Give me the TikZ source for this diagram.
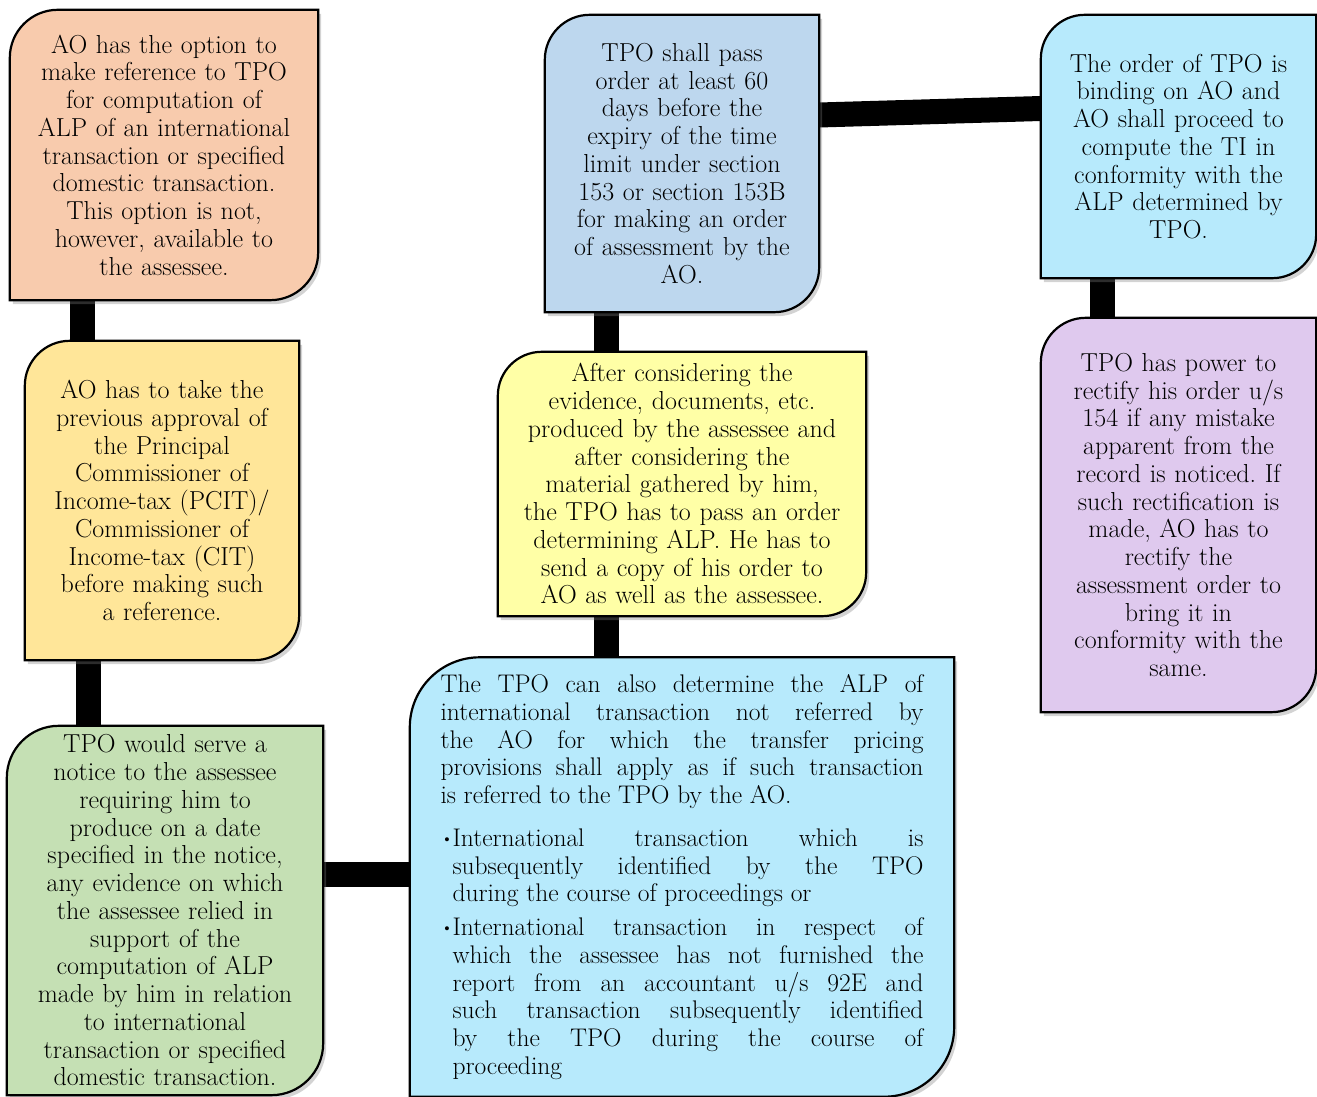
\documentclass[tikz,border=0pt]{standalone}
\usepackage{graphicx}
\usepackage{tikz}
\usetikzlibrary{backgrounds,shadows}
\definecolor{corange}{HTML}{F8CBAD}
\definecolor{cyellow}{HTML}{FFE699}
\definecolor{cgreen}{HTML}{C5E0B4}
\definecolor{cblue}{HTML}{BDD7EE}
\definecolor{clemon}{HTML}{FFFFA6}
\definecolor{ccyan}{HTML}{B7EAFC}
\definecolor{cpurple}{HTML}{DFC9EE}
% outline with rounded top-left and bottom-right corners round a node
\newcommand{\diagbox}[3]{%
  \draw[boxline, fill=#2] ([yshift=-#3]#1.north west)
    arc[start angle=180, end angle=90, radius=#3] -- (#1.north east)
    -- ([yshift=#3]#1.south east)
    arc[start angle=0, end angle=-90, radius=#3] -- (#1.south west) -- cycle;}
\newcommand{\bul}{\makebox[12pt][l]{\raisebox{2pt}{\scalebox{0.7}{\textbullet}}}}
\frenchspacing

\begin{document}
\begin{tikzpicture}[
    x=1pt, y=-1pt,
    txt/.style={font=\fontsize{26}{27.75}\selectfont, align=center, inner xsep=8pt, inner ysep=2pt},
    boxline/.style={draw=black, line width=2.2pt,
        drop shadow={shadow xshift=3pt, shadow yshift=-4pt, opacity=0.35}},
    link/.style={line width=25pt, black},
]
\useasboundingbox (0,0) rectangle (1317,1097);
% left column
\node[txt, minimum width=308pt, minimum height=290pt, text width=290pt] (option) at (164,155)
  {AO has the option to\\ make reference to TPO\\ for computation of\\ ALP of an international\\
   transaction or specified\\ domestic transaction.\\ This option is not,\\ however, available to\\ the assessee.};
\node[txt, minimum width=272pt, minimum height=319pt, text width=258pt] (approval) at (162,500.5)
  {AO has to take the\\ previous approval of\\ the Principal\\ Commissioner of\\ Income-tax (PCIT)/\\
   Commissioner of\\ Income-tax (CIT)\\ before making such\\ a reference.};
\node[txt, minimum width=314pt, minimum height=369pt, text width=300pt] (notice) at (165,910.5)
  {TPO would serve a\\ notice to the assessee\\ requiring him to\\ produce on a date\\
   specified in the notice,\\ any evidence on which\\ the assessee relied in\\ support of the\\
   computation of ALP\\ made by him in relation\\ to international\\ transaction or specified\\
   domestic transaction.};
% middle column
\node[txt, minimum width=272pt, minimum height=297pt, text width=258pt] (passorder) at (682,163.5)
  {TPO shall pass\\ order at least 60\\ days before the\\ expiry of the time\\ limit under section\\
   153 or section 153B\\ for making an order\\ of assessment by the\\ AO.};
\node[txt, minimum width=368pt, minimum height=264pt, text width=352pt] (determine) at (682,484)
  {After considering the\\ evidence, documents, etc.\\ produced by the assessee and\\
   after considering the\\ material gathered by him,\\ the TPO has to pass an order\\
   determining ALP. He has to\\ send a copy of his order to\\ AO as well as the assessee.};
\node[txt, font=\fontsize{25.5}{27.75}\selectfont, align=justify, minimum width=544pt, minimum height=439pt,
      text width=483pt] (extra) at (682,877)
  {\parindent=0pt\tolerance=10000
   The TPO can also determine the ALP of\linebreak international transaction not referred by\linebreak
   the AO for which the transfer pricing\linebreak provisions shall apply as if such transaction\linebreak
   is referred to the TPO by the AO.\par\vspace{15pt}
   \hangindent=12pt\hangafter=1\noindent\bul International transaction which is\linebreak
   subsequently identified by the TPO\linebreak during the course of proceedings or\par\vspace{6pt}
   \hangindent=12pt\hangafter=1\noindent\bul International transaction in respect of\linebreak
   which the assessee has not furnished the\linebreak report from an accountant u/s 92E and\linebreak
   such transaction subsequently identified\linebreak by the TPO during the course of\linebreak
   proceeding\par};
% right column
\node[txt, minimum width=273pt, minimum height=263pt, text width=259pt] (binding) at (1178.5,146.5)
  {The order of TPO is\\ binding on AO and\\ AO shall proceed to\\ compute the TI in\\
   conformity with the\\ ALP determined by\\ TPO.};
\node[txt, minimum width=273pt, minimum height=394pt, text width=259pt] (rectify) at (1178.5,515)
  {TPO has power to\\ rectify his order u/s\\ 154 if any mistake\\ apparent from the\\
   record is noticed. If\\ such rectification is\\ made, AO has to\\ rectify the\\
   assessment order to\\ bring it in\\ conformity with the\\ same.};
\begin{scope}[on background layer]
% connectors
\draw[link] ([xshift=-82pt]option.south) -- ([xshift=-82pt]option.south |- approval.north);
\draw[link] ([xshift=-74pt]approval.south) -- ([xshift=-74pt]approval.south |- notice.north);
\draw[link] ([yshift=36.5pt]notice.east) -- ([yshift=36.5pt]notice.east -| extra.west);
\draw[link] ([xshift=-76pt]determine.south) -- ([xshift=-76pt]determine.south |- extra.north);
\draw[link] ([xshift=-76pt]passorder.south) -- ([xshift=-76pt]passorder.south |- determine.north);
\draw[link] ([yshift=48.5pt]passorder.east) -- ([yshift=38pt]binding.west);
\draw[link] ([xshift=-76.5pt]binding.south) -- ([xshift=-76.5pt]binding.south |- rectify.north);
% boxes
\diagbox{option}{corange}{48pt}
\diagbox{approval}{cyellow}{45pt}
\diagbox{notice}{cgreen}{52pt}
\diagbox{passorder}{cblue}{45pt}
\diagbox{determine}{clemon}{44pt}
\diagbox{extra}{ccyan}{70pt}
\diagbox{binding}{ccyan}{44pt}
\diagbox{rectify}{cpurple}{45pt}
\end{scope}
\end{tikzpicture}
\end{document}
